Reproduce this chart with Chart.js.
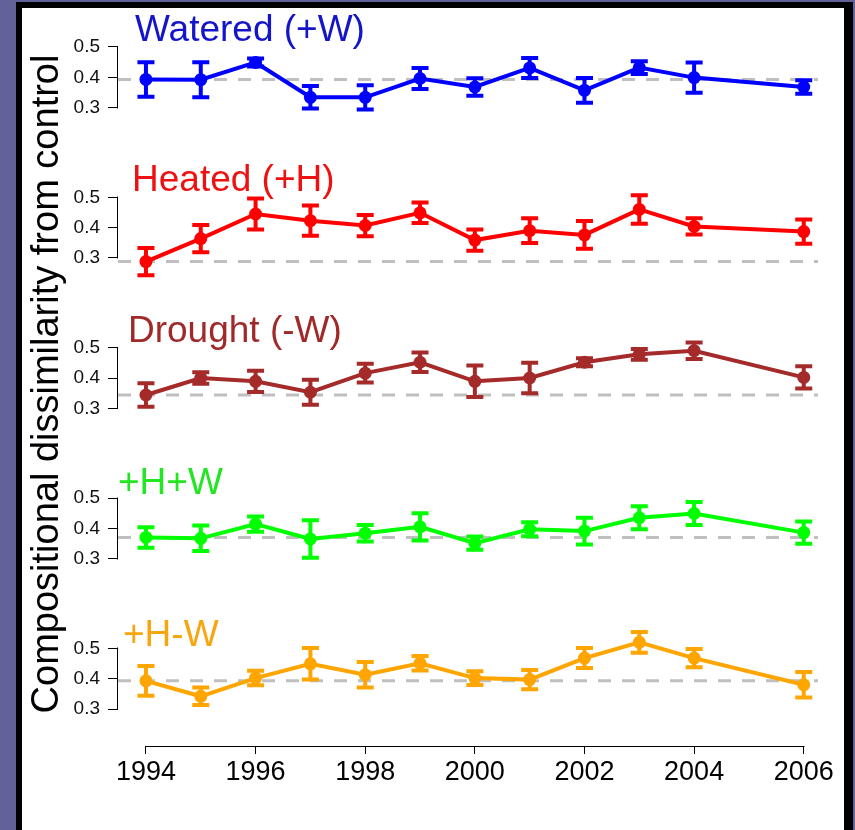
<!DOCTYPE html>
<html>
<head>
<meta charset="utf-8">
<script src="https://cdn.jsdelivr.net/npm/chart.js@4.4.1/dist/chart.umd.min.js"></script>
<style>
  html, body { margin: 0; padding: 0; overflow: hidden; background: #62629a; }
  #frame {
    position: absolute; left: 16px; top: 2px; width: 837px; height: 840px; box-sizing: border-box;
    border-left: 6px solid #000; border-top: 6px solid #000; border-right: 9px solid #000; background: #fff;
  }
  #chart { position: absolute; left: 0; top: 0; }
</style>
</head>
<body>
<div id="frame"></div>
<canvas id="chart" width="855" height="830"></canvas>
<script>
// data
var years = [1994, 1995, 1996, 1997, 1998, 1999, 2000, 2001, 2002, 2003, 2004, 2006];
var yearTicks = [1994, 1996, 1998, 2000, 2002, 2004, 2006];
var dissimTicks = [0.3, 0.4, 0.5];
var panelNames = ['Watered (+W)', 'Heated (+H)', 'Drought (-W)', '+H+W', '+H-W'];

var watered      = [0.393, 0.392, 0.449, 0.334, 0.334, 0.396, 0.368, 0.431, 0.357, 0.432, 0.399, 0.368];
var wateredErr   = [0.057, 0.058, 0.013, 0.037, 0.040, 0.035, 0.029, 0.033, 0.041, 0.021, 0.050, 0.022];
var heated       = [0.288, 0.364, 0.445, 0.423, 0.407, 0.449, 0.359, 0.390, 0.376, 0.460, 0.404, 0.387];
var heatedErr    = [0.045, 0.045, 0.051, 0.050, 0.035, 0.034, 0.035, 0.041, 0.046, 0.047, 0.027, 0.040];
var drought      = [0.344, 0.400, 0.389, 0.353, 0.416, 0.452, 0.389, 0.400, 0.452, 0.478, 0.490, 0.402];
var droughtErr   = [0.039, 0.019, 0.035, 0.041, 0.031, 0.032, 0.052, 0.050, 0.013, 0.018, 0.027, 0.037];
var heatWater    = [0.370, 0.367, 0.414, 0.365, 0.384, 0.405, 0.351, 0.397, 0.391, 0.435, 0.449, 0.386];
var heatWaterErr = [0.034, 0.042, 0.025, 0.062, 0.027, 0.045, 0.022, 0.023, 0.044, 0.038, 0.038, 0.037];
var heatDry      = [0.393, 0.342, 0.402, 0.449, 0.413, 0.451, 0.402, 0.397, 0.468, 0.520, 0.468, 0.380];
var heatDryErr   = [0.049, 0.029, 0.024, 0.052, 0.042, 0.024, 0.023, 0.032, 0.033, 0.034, 0.030, 0.042];

var series = [watered, heated, drought, heatWater, heatDry];
var errors = [wateredErr, heatedErr, droughtErr, heatWaterErr, heatDryErr];

// styling / layout
var FONT = '"Liberation Sans", Arial, Helvetica, sans-serif';
var lineColors  = ['#0000ff', '#ff0000', '#a52a2a', '#00ff00', '#ffa500'];
var titleColors = ['#1414c8', '#ee1111', '#a02a2a', '#22e622', '#f8a510'];
var titleDx = [17, 14, 10, 0, 5];
var titleDy = [6, 6, 6, 4, 2];
var panelMin = 0.178;
var panelMax = [0.622, 0.674, 0.674, 0.674, 0.674];

Chart.defaults.font.family = FONT;

var scales = {
    x: {
        type: 'linear', min: 1993.49, max: 2006.26,
        border: {display: false},
        grid: {drawOnChartArea: false, drawTicks: true, tickLength: 8, color: '#000', lineWidth: 1},
        ticks: {color: '#000', font: {size: 27}, padding: 2, maxRotation: 0, callback: function (v) { return String(v); }},
        afterBuildTicks: function (s) { s.ticks = yearTicks.map(function (v) { return {value: v}; }); },
        afterFit: function (s) { s.height = 84; }
    }
};
panelNames.forEach(function (name, i) {
    scales['y' + i] = {
        type: 'linear', position: 'left', stack: 'panels',
        stackWeight: panelMax[i] - panelMin, weight: 10 - i,
        min: panelMin, max: panelMax[i],
        border: {display: false},
        grid: {drawOnChartArea: false, drawTicks: true, tickLength: 10, color: '#000', lineWidth: 1},
        ticks: {color: '#111', font: {size: 19}, padding: 8, callback: function (v) { return v.toFixed(1); }},
        afterBuildTicks: function (s) { s.ticks = dissimTicks.map(function (v) { return {value: v}; }); },
        afterFit: function (s) { s.width = 118; s.paddingTop = 0; s.paddingBottom = 0; }
    };
});

var datasets = series.map(function (vals, i) {
    return {
        label: panelNames[i],
        yAxisID: 'y' + i,
        data: years.map(function (yr, j) { return {x: yr, y: vals[j]}; }),
        errors: errors[i],
        borderColor: lineColors[i],
        backgroundColor: lineColors[i],
        borderWidth: 4,
        pointRadius: 6.5,
        pointBorderWidth: 0,
        pointHoverRadius: 6.5,
        tension: 0
    };
});

// dashed reference line at the 1994 level of each panel
var refLines = {
    id: 'refLines',
    beforeDatasetsDraw: function (chart) {
        var ctx = chart.ctx, area = chart.chartArea;
        ctx.save();
        ctx.strokeStyle = '#bfbfbf';
        ctx.lineWidth = 3;
        ctx.setLineDash([13, 11]);
        chart.data.datasets.forEach(function (ds) {
            var y = chart.scales[ds.yAxisID].getPixelForValue(ds.data[0].y);
            ctx.beginPath();
            ctx.moveTo(area.left, y);
            ctx.lineTo(area.right, y);
            ctx.stroke();
        });
        ctx.restore();
    }
};

var errorBars = {
    id: 'errorBars',
    afterDatasetsDraw: function (chart) {
        var ctx = chart.ctx;
        ctx.save();
        ctx.lineWidth = 4;
        chart.data.datasets.forEach(function (ds, i) {
            var meta = chart.getDatasetMeta(i);
            var ys = chart.scales[ds.yAxisID];
            ctx.strokeStyle = ds.borderColor;
            meta.data.forEach(function (pt, j) {
                var top = ys.getPixelForValue(ds.data[j].y + ds.errors[j]);
                var bot = ys.getPixelForValue(ds.data[j].y - ds.errors[j]);
                ctx.beginPath();
                ctx.moveTo(pt.x, top); ctx.lineTo(pt.x, bot);
                ctx.moveTo(pt.x - 8.5, top); ctx.lineTo(pt.x + 8.5, top);
                ctx.moveTo(pt.x - 8.5, bot); ctx.lineTo(pt.x + 8.5, bot);
                ctx.stroke();
            });
        });
        ctx.restore();
    }
};

// R-style axis lines, panel titles and the shared y title
var decorations = {
    id: 'decorations',
    afterDraw: function (chart) {
        var ctx = chart.ctx, area = chart.chartArea;
        var xs = chart.scales.x;
        ctx.save();
        ctx.strokeStyle = '#000';
        ctx.lineWidth = 1;
        var lx = Math.round(area.left) - 0.5;
        panelNames.forEach(function (name, i) {
            var ys = chart.scales['y' + i];
            ctx.beginPath();
            ctx.moveTo(lx, Math.round(ys.getPixelForValue(dissimTicks[0])) + 0.5);
            ctx.lineTo(lx, Math.round(ys.getPixelForValue(dissimTicks[dissimTicks.length - 1])) - 0.5);
            ctx.stroke();
        });
        var by = Math.round(area.bottom) + 0.5;
        ctx.beginPath();
        ctx.moveTo(Math.round(xs.getPixelForValue(yearTicks[0])) - 0.5, by);
        ctx.lineTo(Math.round(xs.getPixelForValue(yearTicks[yearTicks.length - 1])) + 0.5, by);
        ctx.stroke();

        ctx.font = '37px ' + FONT;
        ctx.textAlign = 'left';
        ctx.textBaseline = 'alphabetic';
        panelNames.forEach(function (name, i) {
            var ys = chart.scales['y' + i];
            ctx.fillStyle = titleColors[i];
            ctx.fillText(name, area.left + titleDx[i], ys.getPixelForValue(0.5) - titleDy[i]);
        });

        ctx.translate(58, 384);
        ctx.rotate(-Math.PI / 2);
        ctx.fillStyle = '#000';
        ctx.font = '38px ' + FONT;
        ctx.textAlign = 'center';
        ctx.fillText('Compositional dissimilarity from control', 0, 0);
        ctx.restore();
    }
};

new Chart(document.getElementById('chart').getContext('2d'), {
    type: 'line',
    data: {datasets: datasets},
    options: {
        responsive: false,
        animation: false,
        events: [],
        layout: {padding: {left: 0, top: 10, right: 37, bottom: 0}},
        plugins: {legend: {display: false}, tooltip: {enabled: false}},
        scales: scales
    },
    plugins: [refLines, errorBars, decorations]
});
</script>
</body>
</html>
